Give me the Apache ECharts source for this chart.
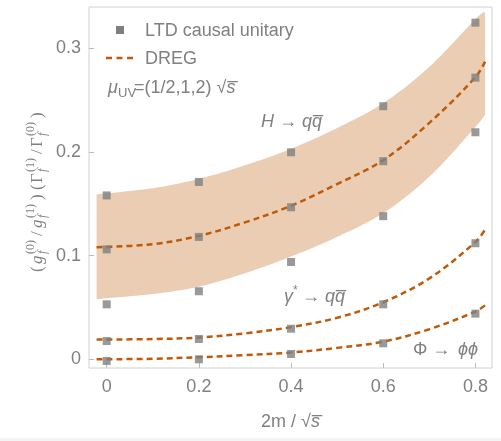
<!DOCTYPE html>
<html><head><meta charset="utf-8">
<script src="https://cdn.jsdelivr.net/npm/echarts@6/dist/echarts.min.js"></script>
<style>html,body{margin:0;padding:0;background:#fff}#c{width:501px;height:441px}</style>
</head><body><div id="c"></div>
<script>
// ---- data ----
const pointX = [0, 0.2, 0.4, 0.6, 0.8];
const ltdHHigh = [0.158, 0.171, 0.1996, 0.244, 0.3246];
const ltdHCentral = [0.106, 0.118, 0.1466, 0.191, 0.2716];
const ltdHLow = [0.053, 0.0656, 0.0938, 0.138, 0.2189];
const ltdGamma = [0.0176, 0.0196, 0.0295, 0.053, 0.1119];
const ltdPhi = [-0.0016, 0.0, 0.0051, 0.0154, 0.044];

const curveX = [-0.022, 0.1, 0.2, 0.3, 0.4, 0.5, 0.6, 0.7, 0.8, 0.821];
const dregH = [0.108, 0.111, 0.119, 0.132, 0.148, 0.169, 0.192, 0.228, 0.272, 0.287];
const bandHigh = [0.159, 0.165, 0.174, 0.187, 0.203, 0.223, 0.247, 0.282, 0.328, 0.335];
const bandLow = [0.058, 0.063, 0.070, 0.083, 0.099, 0.118, 0.141, 0.176, 0.224, 0.236];
const dregGamma = [0.019, 0.0195, 0.021, 0.025, 0.031, 0.040, 0.055, 0.078, 0.113, 0.125];
const dregPhi = [0.0, 0.0005, 0.002, 0.004, 0.0065, 0.011, 0.017, 0.029, 0.046, 0.052];

const xTicks = [0, 0.2, 0.4, 0.6, 0.8];
const xTickLabels = ['0', '0.2', '0.4', '0.6', '0.8'];
const yTicks = [0, 0.1, 0.2, 0.3];
const yTickLabels = ['0', '0.1', '0.2', '0.3'];

// ---- styling ----
const SANS = 'Liberation Sans, DejaVu Sans, sans-serif';
const SERIF = 'Liberation Serif, DejaVu Serif, serif';
const GRAY = '#7f7f7f';
const TXT = '#808080';
const ORANGE = '#bf5a0a';
const BAND = '#eacdb3';

function pairs(xs, ys) { return xs.map((x, i) => [x, ys[i]]); }
const scatterData = [];
[ltdHHigh, ltdHCentral, ltdHLow, ltdGamma, ltdPhi].forEach(arr => {
  pointX.forEach((x, i) => scatterData.push([x, arr[i]]));
});

// Catmull-Rom rendering of a smooth edge through pixel points
function smoothPath(pts, segs) {
  const out = [];
  const n = pts.length;
  for (let i = 0; i < n - 1; i++) {
    const p0 = pts[Math.max(i - 1, 0)], p1 = pts[i], p2 = pts[i + 1], p3 = pts[Math.min(i + 2, n - 1)];
    for (let s = 0; s < segs; s++) {
      const t = s / segs, t2 = t * t, t3 = t2 * t;
      const f = k => 0.5 * ((2 * p1[k]) + (-p0[k] + p2[k]) * t + (2 * p0[k] - 5 * p1[k] + 4 * p2[k] - p3[k]) * t2 + (-p0[k] + 3 * p1[k] - 3 * p2[k] + p3[k]) * t3);
      out.push([f(0), f(1)]);
    }
  }
  out.push(pts[n - 1]);
  return out;
}

const dashStyle = { color: ORANGE, width: 2.5, type: [6, 4] };

const chart = echarts.init(document.getElementById('c'), null, { renderer: 'canvas' });

// y-axis label pieces (local coordinates along the rotated text)
const yl = [];
function piece(x, y, text, size, italic) {
  yl.push({ type: 'text', x: x, y: y, style: { text: text, font: (italic ? 'italic ' : '') + size + 'px ' + SERIF, fill: TXT, verticalAlign: 'middle', align: 'left' } });
}
piece(0, 0, '(', 17, false);
piece(8, 0, 'g', 17, true);
piece(18, 5, 'f', 12, true); piece(18, -7, '(0)', 12, false);
piece(36, 0, '/', 17, false);
piece(44, 0, 'g', 17, true);
piece(54, 5, 'f', 12, true); piece(54, -7, '(1)', 12, false);
piece(72, 0, ')', 17, false);
piece(82, 0, '(', 17, false);
piece(89, 0, 'Γ', 17, false);
piece(100, 5, 'f', 12, true); piece(100, -7, '(1)', 12, false);
piece(118, 0, '/', 17, false);
piece(125, 0, 'Γ', 17, false);
piece(136, 5, 'f', 12, true); piece(136, -7, '(0)', 12, false);
piece(154, 0, ')', 17, false);

const txt = (x, y, text, font, extra) => Object.assign({ type: 'text', x: x, y: y, style: Object.assign({ text: text, font: font, fill: TXT, verticalAlign: 'middle' }, extra || {}) });

const option = {
  backgroundColor: '#fff',
  animation: false,
  grid: { left: 89, right: 9, top: 7, bottom: 73, show: true, borderColor: '#d0d0d0', borderWidth: 1, backgroundColor: 'transparent' },
  xAxis: {
    type: 'value', min: -0.0384, max: 0.836,
    splitLine: { show: false },
    axisLine: { show: false, onZero: false },
    axisTick: { show: true, inside: true, length: 5, customValues: xTicks, lineStyle: { color: '#bbbbbb' } },
    axisLabel: { customValues: xTicks, margin: 10, color: TXT, fontSize: 18, fontFamily: SANS,
      formatter: v => xTickLabels[xTicks.indexOf(v)] },
    name: '2m / √{s|s\u0305}', nameLocation: 'middle', nameGap: 45,
    nameTextStyle: { color: TXT, fontSize: 18, fontFamily: SANS, rich: { s: { fontStyle: 'italic', fontSize: 18, color: TXT, fontFamily: SANS } } }
  },
  yAxis: {
    type: 'value', min: -0.0084, max: 0.3397,
    splitLine: { show: false },
    axisLine: { show: false, onZero: false },
    axisTick: { show: true, inside: true, length: 5, customValues: yTicks, lineStyle: { color: '#bbbbbb' } },
    axisLabel: { customValues: yTicks, margin: 8, color: TXT, fontSize: 18, fontFamily: SANS,
      formatter: v => yTickLabels[yTicks.indexOf(v)] }
  },
  series: [
    { name: 'band', type: 'custom', z: 1, silent: true, clip: true,
      data: [[curveX[0], bandLow[0]]],
      renderItem: function (params, api) {
        const up = smoothPath(curveX.map((x, i) => api.coord([x, bandHigh[i]])), 12);
        const lo = smoothPath(curveX.map((x, i) => api.coord([x, bandLow[i]])), 12).reverse();
        return { type: 'polygon', shape: { points: up.concat(lo) }, style: { fill: BAND } };
      }
    },
    { name: 'DREG', type: 'line', data: pairs(curveX, dregH), smooth: 0.35, symbol: 'none', lineStyle: dashStyle, itemStyle: { color: ORANGE }, z: 3 },
    { name: 'DREG', type: 'line', data: pairs(curveX, dregGamma), smooth: 0.35, symbol: 'none', lineStyle: dashStyle, itemStyle: { color: ORANGE }, z: 3 },
    { name: 'DREG', type: 'line', data: pairs(curveX, dregPhi), smooth: 0.35, symbol: 'none', lineStyle: dashStyle, itemStyle: { color: ORANGE }, z: 3 },
    { name: 'LTD causal unitary', type: 'scatter', data: scatterData, symbol: 'rect', symbolSize: 8,
      itemStyle: { color: GRAY }, z: 5 }
  ],
  graphic: [
    { type: 'rect', left: 0, top: 438, shape: { width: 501, height: 3 }, style: { fill: '#f4f4f4' }, silent: true },
    { type: 'group', x: 38, y: 272, rotation: Math.PI / 2, children: yl },
    // legend
    { type: 'rect', shape: { x: 116, y: 26, width: 8, height: 8 }, style: { fill: GRAY } },
    txt(145, 31, 'LTD causal unitary', '18px ' + SANS),
    { type: 'line', shape: { x1: 106, y1: 58, x2: 134, y2: 58 }, style: { stroke: ORANGE, lineWidth: 2.5, lineDash: [6, 4.5] } },
    txt(145, 59, 'DREG', '18px ' + SANS),
    // annotations
    txt(108, 88, 'μ', 'italic 18px ' + SANS),
    txt(118, 93, 'UV', '13px ' + SANS),
    txt(134, 88, '=(1/2,1,2) √{s|s\u0305}', '18px ' + SANS, { rich: { s: { fontStyle: 'italic', fontSize: 18, fontFamily: SANS, fill: TXT } } }),
    txt(261, 122, 'H → qq\u0305', 'italic 18px ' + SANS),
    txt(284, 297, 'γ', 'italic 18px ' + SANS),
    txt(293, 291, '*', '12px ' + SANS),
    txt(302, 297, '→ qq\u0305', 'italic 18px ' + SANS),
    txt(413, 350, 'Φ → ', '18px ' + SANS),
    txt(458, 350, 'ϕϕ', 'italic 18px ' + SANS)
  ]
};
chart.setOption(option);
</script>
</body></html>
